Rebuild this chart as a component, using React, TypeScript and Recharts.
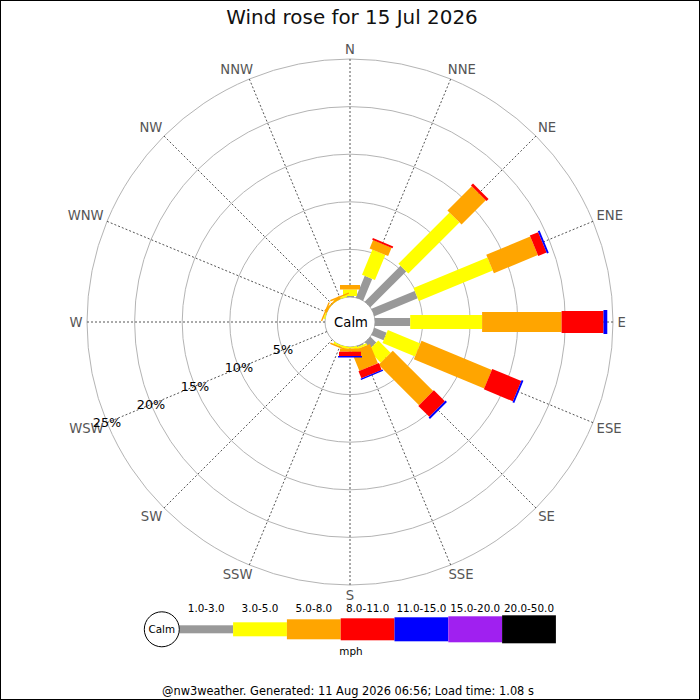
import { Legend, PolarAngleAxis, PolarGrid, PolarRadiusAxis, RadialBar, RadialBarChart } from 'recharts';

const FONT = '"DejaVu Sans", Verdana, sans-serif';
const CX = 350;
const CY = 322;
const CALM_R = 25;
const OUTER_R = 263;

const directions = ['N', 'NNE', 'NE', 'ENE', 'E', 'ESE', 'SE', 'SSE', 'S', 'SSW', 'SW', 'WSW', 'W', 'WNW', 'NW', 'NNW'];
const speedBins = ['1.0-3.0', '3.0-5.0', '5.0-8.0', '8.0-11.0', '11.0-15.0', '15.0-20.0', '20.0-50.0'];
const binColours = ['#999999', '#ffff00', '#ffa500', '#ff0000', '#0000ff', '#a020f0', '#000000'];
const binWidths = [8, 14, 20, 22, 24, 26, 28];

// % of observations in each speed band, per direction (stacked outwards)
const mph1to3 = [0.1, 2.45, 5.3, 4.9, 3.7, 1.37, 0.85, 0.1, 0.05, 0.05, 0, 0, 0, 0.02, 0, 0.05];
const mph3to5 = [0.7, 2.85, 7.6, 8.4, 7.55, 3.7, 1.83, 0.2, 0.1, 0.1, 0, 0, 0, 0.08, 0.05, 0.1];
const mph5to8 = [0.46, 0.95, 3.6, 5.0, 8.35, 8.0, 6.0, 2.2, 0.35, 0.15, 0, 0, 0, 0.15, 0.1, 0.15];
const mph8to11 = [0, 0.2, 0.3, 0.95, 4.4, 3.3, 1.63, 0.8, 0.45, 0, 0, 0, 0, 0, 0, 0];
const mph11to15 = [0, 0, 0, 0.2, 0.4, 0.2, 0.2, 0.15, 0.15, 0, 0, 0, 0, 0, 0, 0];
const mph15to20 = [0, 0, 0, 0, 0, 0, 0, 0, 0, 0, 0, 0, 0, 0, 0, 0];
const mph20to50 = [0, 0, 0, 0, 0, 0, 0, 0, 0, 0, 0, 0, 0, 0, 0, 0];

const percentTicks = [0, 5, 10, 15, 20, 25];

const bands = [mph1to3, mph3to5, mph5to8, mph8to11, mph11to15, mph15to20, mph20to50];

const rows = directions.map((dir, i) => {
  const row: Record<string, string | number> = { dir };
  bands.forEach((band, k) => {
    row['b' + k] = band[i];
  });
  return row;
});

// recharts puts the angle ticks on the band edge and the bars half a band further on,
// so the axis starts half a band early and the ticks/spokes are moved onto the bar centres
const HALF_BAND = 180 / directions.length;
const START_ANGLE = 90 - HALF_BAND;
const spokeAngles = directions.map((_, i) => 90 - i * 2 * HALF_BAND);

const LETTER_W: Record<string, number> = { N: 9.7, E: 8.2, S: 8.3, W: 12.9 };

function DirectionTick(props: any) {
  const { payload } = props;
  const cx = props.cx ?? CX;
  const cy = props.cy ?? CY;
  const a = ((payload.coordinate + HALF_BAND) * Math.PI) / 180;
  const ux = Math.cos(a);
  const uy = -Math.sin(a);
  const label = String(payload.value);
  const w = label.split('').reduce((s, ch) => s + (LETTER_W[ch] ?? 9), 0);
  const base = OUTER_R + 3;
  const dx = Math.abs(ux) < 0.01 ? 0 : Math.sign(ux) * (Math.sqrt(Math.abs(ux)) * (w / 2) + 1.5);
  const dy = Math.abs(uy) < 0.01 ? 0 : Math.sign(uy) * (Math.sqrt(Math.abs(uy)) * 6.5 + 0.5);
  return (
    <text
      x={cx + base * ux + dx}
      y={cy + base * uy + dy}
      textAnchor="middle"
      dominantBaseline="central"
      fill="#555555"
      fontSize={13.2}
      fontFamily={FONT}
    >
      {label}
    </text>
  );
}

function PercentTick(props: any) {
  const { x, y, payload } = props;
  if (payload.value === 0) return <g />;
  return (
    <text x={x} y={y} textAnchor="middle" dominantBaseline="central" fill="#000" fontSize={12.8} fontFamily={FONT}>
      {payload.value}%
    </text>
  );
}

function segmentShape(width: number) {
  return (props: any) => {
    const { cx, cy, innerRadius, outerRadius, startAngle, endAngle, fill } = props;
    if (!(outerRadius - innerRadius > 0.01)) return <g />;
    const mid = (((startAngle + endAngle) / 2) * Math.PI) / 180;
    const ux = Math.cos(mid);
    const uy = -Math.sin(mid);
    const px = (-uy * width) / 2;
    const py = (ux * width) / 2;
    const r0 = innerRadius <= CALM_R + 0.5 ? 0 : innerRadius;
    const r1 = outerRadius;
    const pts = [
      [cx + r0 * ux + px, cy + r0 * uy + py],
      [cx + r1 * ux + px, cy + r1 * uy + py],
      [cx + r1 * ux - px, cy + r1 * uy - py],
      [cx + r0 * ux - px, cy + r0 * uy - py],
    ]
      .map((p) => p.join(','))
      .join(' ');
    const hole =
      `M-2000,-2000H3000V3000H-2000Z ` +
      `M${cx - CALM_R},${cy} a${CALM_R},${CALM_R} 0 1,0 ${2 * CALM_R},0 a${CALM_R},${CALM_R} 0 1,0 ${-2 * CALM_R},0Z`;
    return (
      <g>
        <defs>
          <clipPath id="calm-hole">
            <path d={hole} clipRule="evenodd" />
          </clipPath>
        </defs>
        <polygon points={pts} fill={fill} clipPath="url(#calm-hole)" />
      </g>
    );
  };
}

function SpeedScale() {
  const x0 = 179.3;
  const step = 53.8;
  const mid = 33.3;
  return (
    <svg width={700} height={72} style={{ display: 'block' }}>
      {speedBins.map((label, i) => (
        <g key={label}>
          <rect x={x0 + i * step} y={mid - binWidths[i] / 2} width={step} height={binWidths[i]} fill={binColours[i]} />
          <text x={x0 + i * step + step / 2} y={15.7} textAnchor="middle" fontSize={10.4} fontFamily={FONT} fill="#000">
            {label}
          </text>
        </g>
      ))}
      <circle cx={161.8} cy={mid} r={17.5} fill="#fff" stroke="#000" />
      <text x={161.8} y={mid} textAnchor="middle" dominantBaseline="central" fontSize={10.4} fontFamily={FONT} fill="#000">
        Calm
      </text>
      <text x={351} y={59.3} textAnchor="middle" fontSize={10.4} fontFamily={FONT} fill="#000">
        mph
      </text>
    </svg>
  );
}

export default function App() {
  return (
    <div style={{ position: 'absolute', left: 0, top: 0, width: 700, height: 700, background: '#fff', fontFamily: FONT }}>
      <RadialBarChart
        width={700}
        height={700}
        data={rows}
        layout="centric"
        cx={CX}
        cy={CY}
        innerRadius={CALM_R}
        outerRadius={OUTER_R}
        startAngle={START_ANGLE}
        endAngle={START_ANGLE - 360}
        margin={{ top: 0, right: 0, bottom: 0, left: 0 }}
      >
        <PolarGrid gridType="circle" radialLines={false} stroke="#b4b4b4" />
        <PolarGrid gridType="circle" polarRadius={[0]} polarAngles={spokeAngles} stroke="#555555" strokeDasharray="2 2" />
        <PolarAngleAxis dataKey="dir" type="category" axisLine={false} tickLine={false} tick={DirectionTick} />
        <PolarRadiusAxis
          type="number"
          domain={[0, 25]}
          ticks={percentTicks}
          tickCount={6}
          angle={202.5}
          axisLine={false}
          tickLine={false}
          tick={PercentTick}
        />
        {bands.map((_, k) => (
          <RadialBar
            key={k}
            dataKey={'b' + k}
            stackId="rose"
            fill={binColours[k]}
            shape={segmentShape(binWidths[k])}
            isAnimationActive={false}
          />
        ))}
        <Legend content={() => <SpeedScale />} wrapperStyle={{ top: 596, left: 0, width: 700, height: 72 }} />
      </RadialBarChart>
      <div
        style={{
          position: 'absolute',
          left: 2,
          top: 8,
          width: 700,
          textAlign: 'center',
          fontSize: 19.9,
          lineHeight: '20px',
          color: '#111',
        }}
      >
        Wind rose for 15 Jul 2026
      </div>
      <div
        style={{
          position: 'absolute',
          left: CX + 1,
          top: CY,
          transform: 'translate(-50%, -50%)',
          fontSize: 13.2,
          color: '#000',
          whiteSpace: 'nowrap',
        }}
      >
        Calm
      </div>
      <div
        style={{
          position: 'absolute',
          left: -2,
          top: 686,
          width: 700,
          textAlign: 'center',
          fontSize: 11.4,
          lineHeight: '11px',
          color: '#000',
          whiteSpace: 'nowrap',
        }}
      >
        @nw3weather. Generated: 11 Aug 2026 06:56; Load time: 1.08 s
      </div>
      <div
        style={{
          position: 'absolute',
          left: 0,
          top: 0,
          width: 700,
          height: 700,
          boxSizing: 'border-box',
          border: '1px solid #000',
          pointerEvents: 'none',
        }}
      />
    </div>
  );
}
